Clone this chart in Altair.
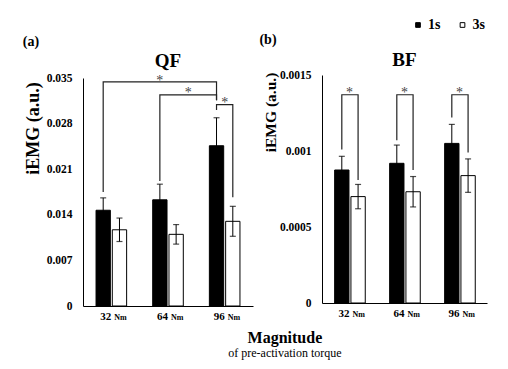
import altair as alt
import pandas as pd

SERIF = "Liberation Serif"

magnitudes = ["32", "64", "96"]
series = ["1s", "3s"]

# QF (a)
qf_1s = [0.0147, 0.0163, 0.0246]
qf_1s_err = [0.0019, 0.0024, 0.0043]
qf_3s = [0.0117, 0.0110, 0.0130]
qf_3s_err = [0.0018, 0.0015, 0.0023]
qf_ticks = [0, 0.007, 0.014, 0.021, 0.028, 0.035]
# brackets: left cat, left series, left y, right cat, right series, right y, top y
qf_brackets = [
    ("32", "1s", 0.0175, "96", "1s", 0.0316, 0.0344),
    ("64", "1s", 0.0192, "96", "1s", 0.0316, 0.0324),
    ("96", "1s", 0.0301, "96", "3s", 0.0167, 0.0309),
]
qf_star_y = [0.0351, 0.0333, 0.0318]

# BF (b)
bf_1s = [0.000875, 0.000919, 0.00105]
bf_1s_err = [0.00009, 0.00012, 0.000125]
bf_3s = [0.00070, 0.000732, 0.000838]
bf_3s_err = [0.00008, 0.00010, 0.00011]
bf_ticks = [0, 0.0005, 0.001, 0.0015]
bf_brackets = [
    ("32", "1s", 0.00101, "32", "3s", 0.00081, 0.00137),
    ("64", "1s", 0.00107, "64", "3s", 0.000875, 0.00137),
    ("96", "1s", 0.00122, "96", "3s", 0.00099, 0.00137),
]
bf_star_y = [0.00141, 0.00141, 0.00141]

H = 228

LEGEND = alt.Legend(orient="none", legendX=328, legendY=-60, direction="horizontal",
                    title=None, symbolType="square", symbolSize=22,
                    symbolStrokeColor="black", symbolStrokeWidth=1,
                    labelFont=SERIF, labelFontSize=14, labelFontWeight="bold",
                    labelColor="black", labelOffset=3, columnPadding=14.5, padding=0)


def panel(title, tag, m1, e1, m3, e3, ymax, ticks, fmt, brackets, width,
          star_layers, tag_x, tag_y, title_y, shift, title_pad, ytitle_size, ytitle_y):
    rows = []
    for i, c in enumerate(magnitudes):
        rows.append({"cat": c, "series": "1s", "value": m1[i],
                     "lo": m1[i] - e1[i], "hi": m1[i] + e1[i]})
        rows.append({"cat": c, "series": "3s", "value": m3[i],
                     "lo": m3[i] - e3[i], "hi": m3[i] + e3[i]})
    df = pd.DataFrame(rows)

    xaxis = dict(labels=False, ticks=False, title=None, domainColor="black", domainWidth=1)
    if shift:
        xaxis["offset"] = -shift
    xenc = alt.X("cat:N", scale=alt.Scale(domain=magnitudes, paddingInner=0.46,
                                          paddingOuter=0.23),
                 axis=alt.Axis(**xaxis))
    xoff = alt.XOffset("series:N", scale=alt.Scale(domain=series, paddingInner=0.12))
    yenc = alt.Y("value:Q", scale=alt.Scale(domain=[0, ymax], nice=False, zero=True,
                                            range=[H - shift, -shift]),
                 axis=alt.Axis(values=ticks, format=fmt, title="iEMG (a.u.)",
                               grid=False, ticks=False, domainColor="black",
                               labelFont=SERIF, labelFontSize=11.5, labelFontWeight="bold",
                               labelColor="black", labelPadding=11,
                               titleFont=SERIF, titleFontSize=ytitle_size,
                               titleFontWeight="bold", titleY=ytitle_y,
                               titleColor="black", titlePadding=title_pad))

    fill = alt.Fill("series:N", scale=alt.Scale(domain=series, range=["black", "white"]),
                    legend=LEGEND)

    base = alt.Chart(df)
    bars = base.mark_bar(stroke="black", strokeWidth=1).encode(
        x=xenc, xOffset=xoff, y=yenc, fill=fill)
    err = base.mark_rule(color="black", strokeWidth=1).encode(
        x="cat:N", xOffset="series:N", y="lo:Q", y2="hi:Q")
    cap_hi = base.mark_tick(color="black", thickness=1.2, size=6).encode(
        x="cat:N", xOffset="series:N", y="hi:Q")
    cap_lo = base.mark_tick(color="black", thickness=1.2, size=6).encode(
        x="cat:N", xOffset="series:N", y="lo:Q")

    brows = []
    for k, (c1, s1, y1, c2, s2, y2, yt) in enumerate(brackets):
        brows += [
            {"id": k, "o": 0, "cat": c1, "series": s1, "v": y1},
            {"id": k, "o": 1, "cat": c1, "series": s1, "v": yt},
            {"id": k, "o": 2, "cat": c2, "series": s2, "v": yt},
            {"id": k, "o": 3, "cat": c2, "series": s2, "v": y2},
        ]
    bdf = pd.DataFrame(brows)
    blines = alt.Chart(bdf).mark_line(color="#222", strokeWidth=1.2).encode(
        x="cat:N", xOffset="series:N", y="v:Q", detail="id:N", order="o:Q")

    layers = [bars, err, cap_hi, cap_lo, blines]

    for (sdf, use_off, dx) in star_layers:
        enc = {"x": "cat:N", "y": "y:Q", "text": "t:N"}
        if use_off:
            enc["xOffset"] = "series:N"
        layers.append(alt.Chart(pd.DataFrame(sdf)).mark_text(
            font=SERIF, fontSize=14, color="#444", baseline="middle", dy=4, dx=dx
        ).encode(**enc))

    ldf = pd.DataFrame({"cat": magnitudes, "unit": ["Nm"] * 3})
    num = alt.Chart(ldf).mark_text(font=SERIF, fontSize=11, fontWeight="bold",
                                   color="black", align="right", baseline="middle",
                                   dx=0).encode(
        x="cat:N", y=alt.value(H + 11 - shift), text="cat:N")
    unit = alt.Chart(ldf).mark_text(font=SERIF, fontSize=8, fontWeight="bold",
                                    color="black", align="left", baseline="middle",
                                    dx=3, dy=1).encode(
        x="cat:N", y=alt.value(H + 11 - shift), text="unit:N")
    tagc = alt.Chart(pd.DataFrame({"t": [tag]})).mark_text(
        font=SERIF, fontSize=14, fontWeight="bold", color="black",
        baseline="middle").encode(x=alt.value(tag_x), y=alt.value(tag_y - shift),
                                  text="t:N")
    titc = alt.Chart(pd.DataFrame({"t": [title]})).mark_text(
        font=SERIF, fontSize=19, fontWeight="bold", color="black",
        baseline="middle").encode(x=alt.value(width / 2), y=alt.value(title_y - shift),
                                  text="t:N")
    layers += [num, unit, tagc, titc]

    return alt.layer(*layers).properties(width=width, height=H)


step_qf = 170 / 3
qf_stars = [
    ([{"cat": "64", "series": "1s", "y": qf_star_y[0], "t": "*"}], True, 0),
    ([{"cat": "96", "series": "1s", "y": qf_star_y[1], "t": "*"}], True, -step_qf / 2),
    ([{"cat": "96", "series": "1s", "y": qf_star_y[2], "t": "*"}], False, 0),
]
bf_stars = [
    ([{"cat": c, "series": "1s", "y": y, "t": "*"} for c, y in zip(magnitudes, bf_star_y)],
     False, 0),
]

left = panel("QF", "(a)", qf_1s, qf_1s_err, qf_3s, qf_3s_err, 0.035, qf_ticks, ".3~f",
             qf_brackets, 170, qf_stars, -52, -36, -17, 0, 4, 18, 50)
right = panel("BF", "(b)", bf_1s, bf_1s_err, bf_3s, bf_3s_err, 0.0015, bf_ticks, ".4~f",
              bf_brackets, 165, bf_stars, -54, -35, -15, 3, 1, 15.5, 34)

chart = alt.hconcat(left, right, spacing=6).properties(
    title=alt.TitleParams("Magnitude", subtitle="of pre-activation torque",
                          orient="bottom", anchor="middle", font=SERIF, fontSize=16,
                          fontWeight="bold", color="black", subtitleFont=SERIF,
                          subtitleFontSize=12, subtitleColor="black",
                          subtitlePadding=2, offset=8, dx=30),
    padding={"left": 14, "top": 10, "right": 5, "bottom": 5},
).configure_view(stroke=None)

chart.save("out.html", embed_options={"renderer": "svg", "actions": False})
